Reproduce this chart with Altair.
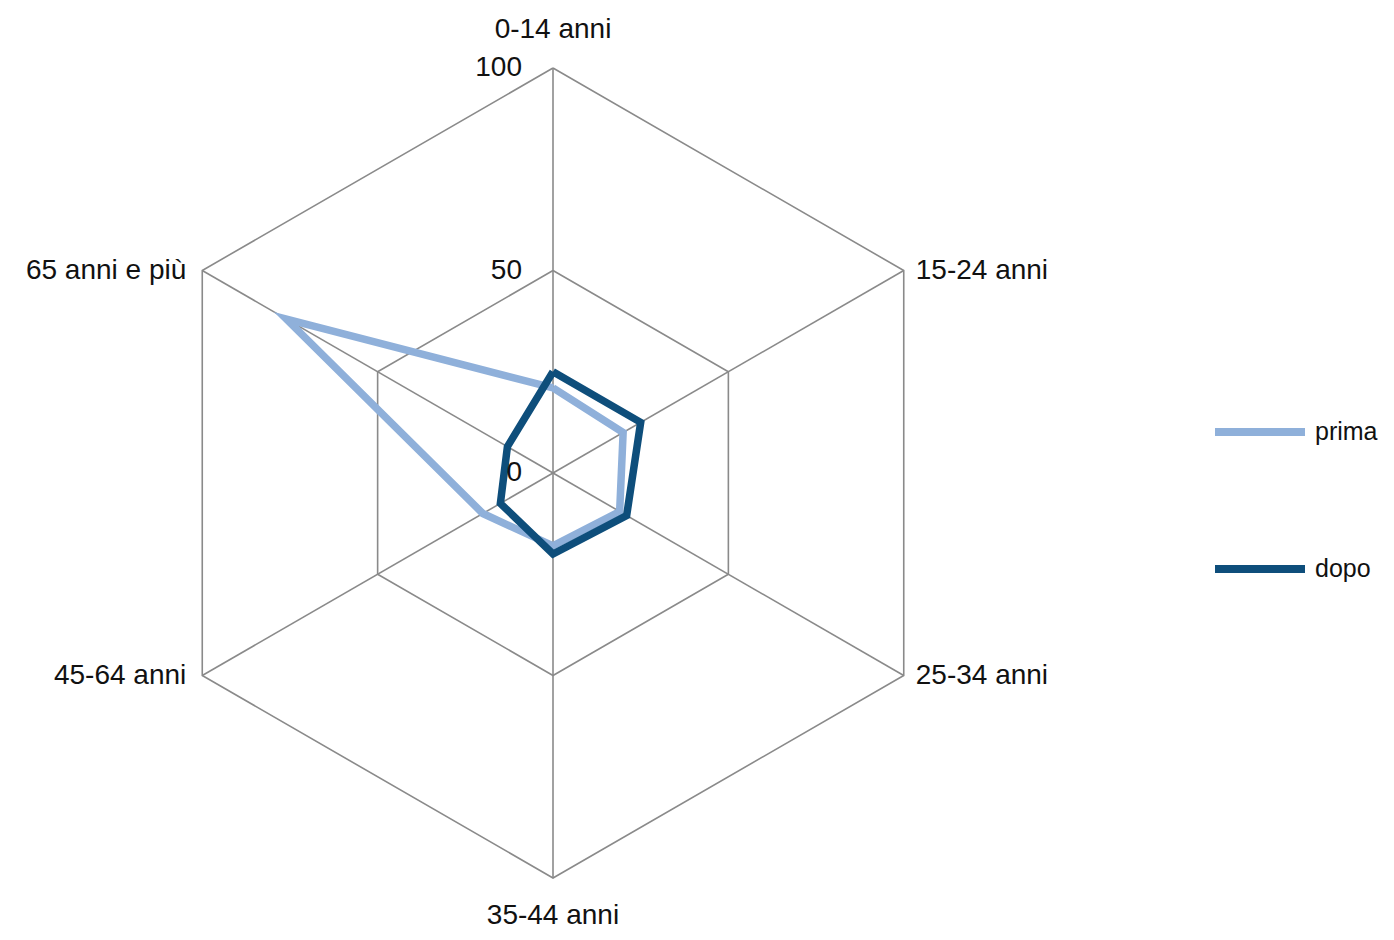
import math
import altair as alt
import pandas as pd

categories = ["0-14 anni", "15-24 anni", "25-34 anni", "35-44 anni", "45-64 anni", "65 anni e più"]
series_names = ["prima", "dopo"]
prima = [21, 20, 19, 18, 20, 76]
dopo = [25, 25, 21, 20, 15, 13]
levels = [0, 50, 100]
level_labels = ["0", "50", "100"]
colors = ["#8fb0da", "#0e4e7b"]

FONT = "Liberation Sans, Arial"
FS = 28
n = len(categories)

# series polygons (closed)
rows = []
for name, vals in zip(series_names, [prima, dopo]):
    for k in range(n + 1):
        i = k % n
        rows.append({"series": name, "cat": categories[i], "idx": i, "order": k, "value": vals[i]})
series_df = pd.DataFrame(rows)

# grid hexagons
grid_rows = []
for lv in levels:
    for k in range(n + 1):
        grid_rows.append({"level": lv, "idx": k % n, "order": k, "value": lv})
grid_df = pd.DataFrame(grid_rows)

spoke_df = pd.DataFrame({"cat": categories, "idx": list(range(n)), "value": [100] * n})
lab_df = pd.DataFrame({"lab": level_labels, "value": levels, "idx": [0] * 3})

ang = "datum.idx * PI / 3"
X = alt.Scale(domain=[-100, 100])
Y = alt.Scale(domain=[-100, 100])

def xy(base):
    return base.transform_calculate(
        x=f"datum.value * sin({ang})", y=f"datum.value * cos({ang})"
    )

grid = xy(alt.Chart(grid_df)).mark_line(color="#8a8a8a", strokeWidth=1.6).encode(
    x=alt.X("x:Q", scale=X, axis=None),
    y=alt.Y("y:Q", scale=Y, axis=None),
    detail="level:N",
    order="order:Q",
)

spokes = xy(alt.Chart(spoke_df)).mark_rule(color="#8a8a8a", strokeWidth=1.6).encode(
    x=alt.X("zero:Q", scale=X, axis=None),
    y=alt.Y("zero:Q", scale=Y, axis=None),
    x2="x:Q",
    y2="y:Q",
).transform_calculate(zero="0")

lines = xy(alt.Chart(series_df)).mark_line(strokeWidth=7.5, strokeJoin="miter").encode(
    x=alt.X("x:Q", scale=X, axis=None),
    y=alt.Y("y:Q", scale=Y, axis=None),
    order="order:Q",
    color=alt.Color(
        "series:N",
        scale=alt.Scale(domain=series_names, range=colors),
        legend=alt.Legend(
            title=None,
            orient="none",
            legendX=1063,
            legendY=315,
            symbolType="stroke",
            symbolSize=8100,
            symbolStrokeWidth=8,
            rowPadding=72,
            labelFontSize=25,
            labelFont=FONT,
            labelColor="#111111",
            labelOffset=6,
        ),
    ),
)

level_text = xy(alt.Chart(lab_df)).mark_text(
    align="right", baseline="middle", dx=-31, fontSize=FS, font=FONT, color="#111111"
).encode(
    x=alt.X("x:Q", scale=X, axis=None),
    y=alt.Y("y:Q", scale=Y, axis=None),
    text="lab:N",
)

def cat_text(idxs, **kw):
    sub = spoke_df[spoke_df["idx"].isin(idxs)]
    return xy(alt.Chart(sub)).mark_text(fontSize=FS, font=FONT, color="#111111", **kw).encode(
        x=alt.X("x:Q", scale=X, axis=None),
        y=alt.Y("y:Q", scale=Y, axis=None),
        text="cat:N",
    )

t_top = cat_text([0], align="center", baseline="bottom", dy=-24)
t_right = cat_text([1, 2], align="left", baseline="middle", dx=12)
t_bottom = cat_text([3], align="center", baseline="top", dy=24)
t_left = cat_text([4, 5], align="right", baseline="middle", dx=-16)

chart = alt.layer(grid, spokes, lines, level_text, t_top, t_right, t_bottom, t_left).properties(
    width=810,
    height=810,
    padding={"left": 140, "top": 60, "right": 428, "bottom": 54},
    autosize="none",
    background="white",
).configure_view(stroke=None)

chart.save("out.html", embed_options={"renderer": "svg", "actions": False})
